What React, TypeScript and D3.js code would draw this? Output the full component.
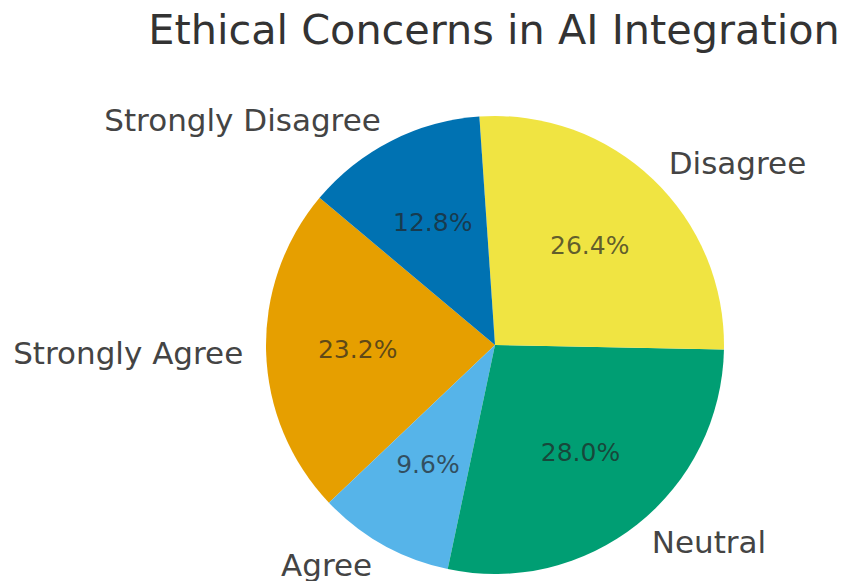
import React from "react";
import * as d3 from "d3";

const categories = ["Strongly Agree", "Agree", "Neutral", "Disagree", "Strongly Disagree"];
const values = [23.2, 9.6, 28.0, 26.4, 12.8];
const colors = ["#E69F00", "#56B4E9", "#009E73", "#F0E442", "#0072B2"];
const title = "Ethical Concerns in AI Integration";
const startAngleDeg = 140;

const W = 842;
const H = 581;
const cx = 495;
const cy = 345;
const R = 229;

export default function App() {
  const total = d3.sum(values);
  const angle = d3.scaleLinear().domain([0, total]).range([0, 360]);
  const arc = d3.arc<any>().innerRadius(0).outerRadius(R);
  let acc = 0;
  const slices = values.map((v, i) => {
    const a0 = startAngleDeg + angle(acc);
    acc += v;
    const a1 = startAngleDeg + angle(acc);
    const mid = ((a0 + a1) / 2) * (Math.PI / 180);
    // convert math (ccw from +x) to d3 (cw from top)
    const s = ((90 - a1) * Math.PI) / 180;
    const e = ((90 - a0) * Math.PI) / 180;
    return { i, v, s, e, mid };
  });
  const font = "DejaVu Sans, sans-serif";
  return (
    <svg width={W} height={H} style={{ position: "absolute", left: 0, top: 0 }}>
      <rect width={W} height={H} fill="#fff" />
      <text x={494} y={30} fontFamily={font} fontSize={41.4} fill="#333" textAnchor="middle" dominantBaseline="central">
        {title}
      </text>
      <g transform={`translate(${cx},${cy})`}>
        {slices.map((d) => (
          <path key={d.i} d={arc({ startAngle: d.s, endAngle: d.e }) as string} fill={colors[d.i]} />
        ))}
        {slices.map((d) => {
          const lx = 1.1 * R * Math.cos(d.mid);
          const ly = -1.1 * R * Math.sin(d.mid);
          const px = 0.6 * R * Math.cos(d.mid);
          const py = -0.6 * R * Math.sin(d.mid);
          return (
            <g key={"t" + d.i}>
              <text x={lx} y={ly} fontFamily={font} fontSize={31} fill="#444" textAnchor={lx > 0 ? "start" : "end"} dominantBaseline="central">
                {categories[d.i]}
              </text>
              <text x={px} y={py} fontFamily={font} fontSize={25} fill="#222" fillOpacity={0.7} textAnchor="middle" dominantBaseline="central">
                {d3.format(".1f")(d.v / total * 100) + "%"}
              </text>
            </g>
          );
        })}
      </g>
    </svg>
  );
}
